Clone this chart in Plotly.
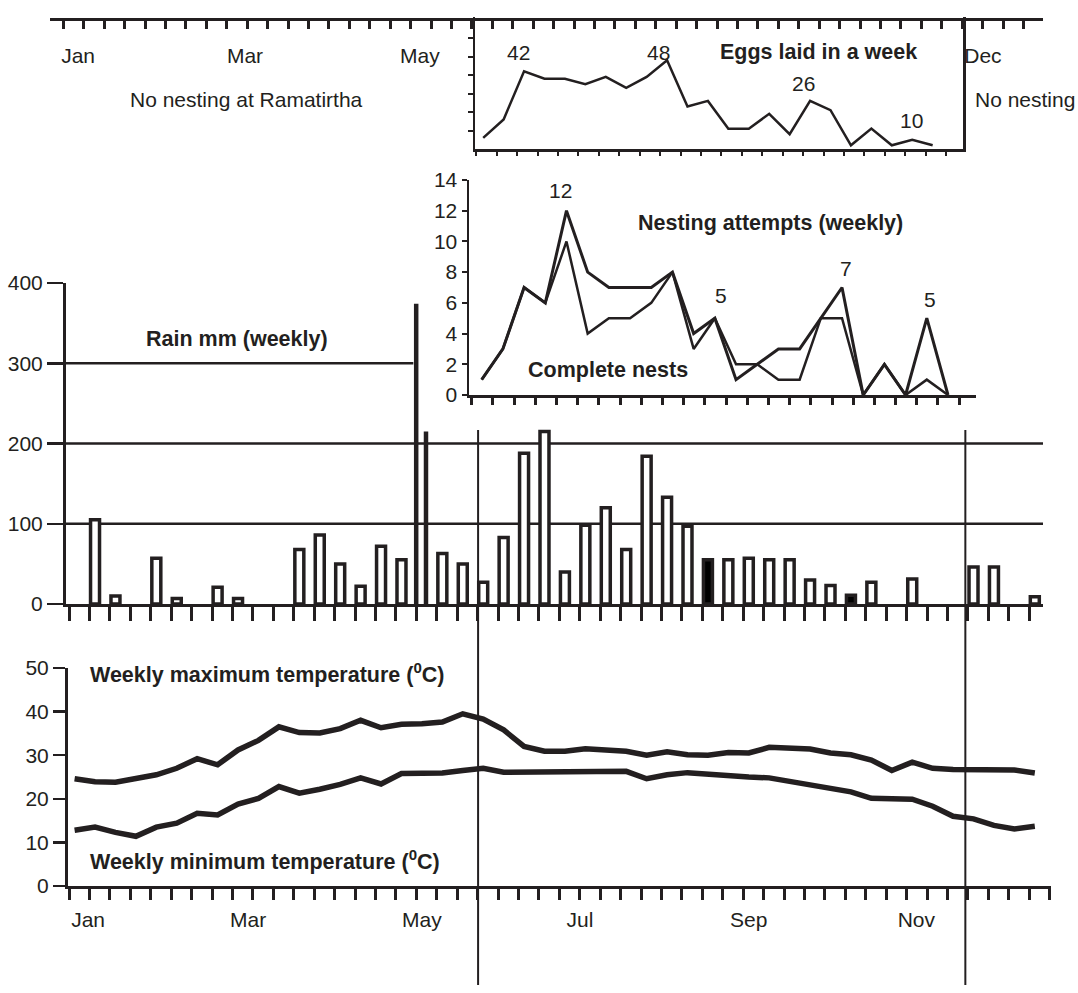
import plotly.graph_objects as go

# ---------------- data ----------------
rain_weeks = list(range(1, 48))
rain_mm = [105, 10, 0, 57, 7, 0, 21, 7, 0, 0, 68, 86, 50, 22, 72, 55, 0, 63, 50, 27,
           83, 188, 215, 40, 98, 120, 68, 184, 133, 97, 55, 55, 57, 55, 55, 30, 23, 11,
           27, 0, 31, 0, 0, 46, 46, 0, 9]
storm_week = 17
storm_rain_mm = [374, 215]          # two readings in the cyclone week
solid_rain_weeks = [31, 38]         # bars printed solid in the original

temp_weeks = list(range(0, 48))
tmax = [24.6, 23.9, 23.8, 24.8, 25.5, 27.0, 29.2, 27.8, 31.2, 33.4, 36.5, 35.2, 35.1, 36.1,
        38.0, 36.3, 37.1, 37.2, 37.6, 39.5, 38.3, 35.8, 32.0, 30.9, 30.9, 31.5, 31.2, 30.9,
        30.0, 30.8, 30.1, 30.0, 30.6, 30.5, 31.8, 31.7, 31.4, 30.5, 30.1, 28.9, 26.5, 28.4,
        27.0, 26.7, 26.7, 26.7, 26.6, 25.9]
tmin = [12.8, 13.5, 12.3, 11.4, 13.5, 14.4, 16.7, 16.3, 18.8, 20.1, 22.8, 21.3, 22.2, 23.3,
        24.8, 23.4, 25.8, 25.9, 25.9, 26.5, 27.0, 26.1, 26.1, 26.1, 26.1, 26.1, 26.2, 26.3,
        24.6, 25.5, 26.0, 25.6, 25.2, 25.0, 24.8, 24.0, 23.1, 22.3, 21.6, 20.1, 20.0, 19.9,
        18.3, 16.0, 15.4, 13.9, 13.1, 13.7]

nest_weeks = list(range(20, 43))
eggs = [6, 16, 42, 38, 38, 35, 39, 33, 39, 48, 23, 26, 11, 11, 19, 8, 26, 21, 2, 11, 2, 5, 2]
attempts = [1, 3, 7, 6, 12, 8, 7, 7, 7, 8, 4, 5, 1, 2, 3, 3, 5, 7, 0, 2, 0, 5, 0]
complete = [1, 3, 7, 6, 10, 4, 5, 5, 6, 8, 3, 5, 2, 2, 1, 1, 5, 5, 0, 2, 0, 1, 0]

season_start_week = 19.75
season_end_week = 43.6

bottom_months = ["Jan", "Mar", "May", "Jul", "Sep", "Nov"]
bottom_month_weeks = [0.66, 8.49, 17.0, 24.74, 33.0, 41.2]
top_months = ["Jan", "Mar", "May", "Dec"]
top_month_weeks = [0.17, 8.34, 16.9, 44.46]

rain_ticks = [0, 100, 200, 300, 400]
temp_ticks = [0, 10, 20, 30, 40, 50]
nest_ticks = list(range(0, 15, 2))
egg_ticks = [10, 20, 30, 40, 50, 60]

# ---------------- geometry helpers ----------------
W, H = 1078, 993
INK = "#231f20"
FONT = "Liberation Sans, Arial, sans-serif"
REG = 21
BOLD = 21.5


def px(p):
    return p / W


def py(p):
    return 1 - p / H


def wk(p):          # pixel -> week on the main time scale
    return (p - 74.6) / 20.43


def nwk(p):         # pixel -> week on the nesting inset scale
    return 20 + (p - 481.7) / 21.195


fig = go.Figure()

# rain bars
rx = [w for w, v in zip(rain_weeks, rain_mm) if v > 0]
ry = [v for v in rain_mm if v > 0]
rc = ["black" if w in solid_rain_weeks else "white" for w in rx]
fig.add_trace(go.Bar(x=rx, y=ry, width=0.44, marker=dict(color=rc, line=dict(color=INK, width=3.5)),
                     xaxis="x", yaxis="y", showlegend=False))
fig.add_trace(go.Bar(x=[storm_week, storm_week], y=storm_rain_mm, width=[0.22, 0.22], offset=[-0.39, 0.09],
                     marker=dict(color=INK, line=dict(width=0)), xaxis="x", yaxis="y", showlegend=False))

# temperatures
for series in (tmax, tmin):
    fig.add_trace(go.Scatter(x=temp_weeks, y=series, mode="lines", line=dict(color=INK, width=5.5),
                             xaxis="x2", yaxis="y2", showlegend=False))

# eggs
fig.add_trace(go.Scatter(x=nest_weeks, y=eggs, mode="lines", line=dict(color=INK, width=2.5),
                         xaxis="x6", yaxis="y6", showlegend=False))
# nesting
fig.add_trace(go.Scatter(x=nest_weeks, y=attempts, mode="lines", line=dict(color=INK, width=3),
                         xaxis="x7", yaxis="y7", showlegend=False))
fig.add_trace(go.Scatter(x=nest_weeks, y=complete, mode="lines", line=dict(color=INK, width=2.5),
                         xaxis="x7", yaxis="y7", showlegend=False))
# empty traces to keep the label-only axes alive
fig.add_trace(go.Scatter(x=[], y=[], xaxis="x3", yaxis="y2", showlegend=False))
fig.add_trace(go.Scatter(x=[], y=[], xaxis="x4", yaxis="y4", showlegend=False))
fig.add_trace(go.Scatter(x=[], y=[], xaxis="x5", yaxis="y4", showlegend=False))

common = dict(showgrid=False, zeroline=False, linecolor=INK, tickcolor=INK, fixedrange=True,
              automargin=False)

layout = dict(
    width=W, height=H, autosize=False,
    margin=dict(l=0, r=0, t=0, b=0, pad=0, autoexpand=False),
    paper_bgcolor="white", plot_bgcolor="rgba(0,0,0,0)",
    font=dict(family=FONT, size=REG, color=INK),
    barmode="overlay", showlegend=False,
    # rain
    xaxis=dict(domain=[px(66), px(1043)], range=[wk(66), wk(1043)], anchor="y", showline=True, linewidth=2.5,
               ticks="outside", ticklen=14, tickwidth=3, tick0=wk(69), dtick=1, showticklabels=False, **common),
    yaxis=dict(domain=[py(604), py(283)], range=[0, 400], anchor="x", showline=True, linewidth=3,
               ticks="outside", ticklen=16, tickwidth=2.5, tickvals=rain_ticks, **common),
    # temperature
    xaxis2=dict(domain=[px(68), px(1051)], range=[wk(68), wk(1051)], anchor="y2", showline=True, linewidth=3,
                ticks="outside", ticklen=11, tickwidth=3, tick0=wk(69), dtick=1, showticklabels=False, **common),
    yaxis2=dict(domain=[py(886), py(668)], range=[0, 50], anchor="x2", showline=True, linewidth=3,
                ticks="outside", ticklen=12, tickwidth=2.5, tickvals=temp_ticks, **common),
    xaxis3=dict(domain=[px(68), px(1051)], range=[wk(68), wk(1051)], anchor="y2", overlaying="x2",
                showline=False, ticks="", tickvals=bottom_month_weeks, ticktext=bottom_months,
                ticklabelstandoff=19, **common),
    # top timeline
    xaxis4=dict(domain=[px(50), px(1043)], range=[wk(50), wk(1043)], anchor="y4", showline=True, linewidth=3,
                ticks="outside", ticklen=8, tickwidth=3, tick0=wk(63.3), dtick=1, showticklabels=False, **common),
    yaxis4=dict(domain=[py(18), py(8)], range=[0, 1], anchor="x4", visible=False, fixedrange=True),
    xaxis5=dict(domain=[px(50), px(1043)], range=[wk(50), wk(1043)], anchor="y4", overlaying="x4",
                showline=False, ticks="", tickvals=top_month_weeks, ticktext=top_months,
                ticklabelstandoff=23, **common),
    # eggs inset
    xaxis6=dict(domain=[px(475), px(963)], range=[wk(475), wk(963)], anchor="y6", showline=True, linewidth=2.5,
                ticks="outside", ticklen=4, tickwidth=2, tick0=wk(496.7), dtick=1, showticklabels=False, **common),
    yaxis6=dict(domain=[py(149), py(17)], range=[0, (149 - 17) / 1.85], anchor="x6", showline=True, linewidth=2.5,
                mirror=True, ticks="outside", ticklen=5, tickwidth=2, tickvals=egg_ticks, showticklabels=False,
                **common),
    # nesting inset
    xaxis7=dict(domain=[px(469), px(976)], range=[nwk(469), nwk(976)], anchor="y7", showline=True, linewidth=2.5,
                ticks="outside", ticklen=7, tickwidth=3, tick0=nwk(471.7), dtick=1, showticklabels=False, **common),
    yaxis7=dict(domain=[py(395), py(180)], range=[0, 14], anchor="x7", showline=True, linewidth=2.5,
                ticks="outside", ticklen=5, tickwidth=2, tickvals=nest_ticks, **common),
)
fig.update_layout(**layout)

# rain reference lines (100 and 200 full width, 300 up to the storm bar)
shapes = []
for lvl in (100, 200):
    shapes.append(dict(type="line", xref="x domain", yref="y", x0=0, x1=1, y0=lvl, y1=lvl,
                       line=dict(color=INK, width=2.5), layer="below"))
shapes.append(dict(type="line", xref="x", yref="y", x0=wk(66), x1=storm_week - 0.42, y0=300, y1=300,
                   line=dict(color=INK, width=2.5), layer="below"))
# nesting-season boundaries
for wv in (season_start_week, season_end_week):
    shapes.append(dict(type="line", xref="x", yref="paper", x0=wv, x1=wv, y0=py(985), y1=py(430),
                       line=dict(color=INK, width=2)))
fig.update_layout(shapes=shapes)


def note(text, x, y, size=REG, bold=False, xanchor="center"):
    if bold:
        text = "<b>" + text + "</b>"
    fig.add_annotation(text=text, x=px(x), y=py(y), xref="paper", yref="paper", showarrow=False,
                       xanchor=xanchor, yanchor="middle", font=dict(family=FONT, size=size, color=INK))


note("No nesting at Ramatirtha", 246, 100)
note("No nesting", 1025, 100)
note("Eggs laid in a week", 818, 52, size=BOLD, bold=True)
note("42", 518, 53)
note("48", 658, 53)
note("26", 803, 83)
note("10", 911, 120)
note("12", 560, 190)
note("Nesting attempts (weekly)", 770, 223, size=BOLD, bold=True)
note("5", 721, 295)
note("7", 846, 268)
note("5", 930, 300)
note("Complete nests", 608, 370, size=BOLD, bold=True)
note("Rain mm (weekly)", 237, 339, size=BOLD, bold=True)
note("Weekly maximum temperature (<sup>0</sup>C)", 88, 673, size=BOLD, bold=True, xanchor="left")
note("Weekly minimum temperature (<sup>0</sup>C)", 88, 860, size=BOLD, bold=True, xanchor="left")

fig.write_html("out.html",
               config={"displayModeBar": False, "staticPlot": True},
               post_script="document.body.style.margin='0';"
                           "document.documentElement.style.overflow='hidden';")
